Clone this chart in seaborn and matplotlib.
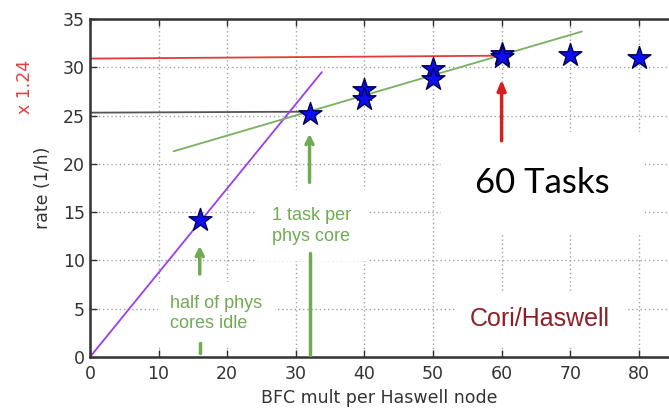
import numpy as np
import pandas as pd
import matplotlib
matplotlib.use("Agg")
import matplotlib.pyplot as plt
import seaborn as sns

# measured points (stars)
bfc_mult = [16, 32, 40, 40, 50, 50, 60, 60, 70, 80]
rate = [14.2, 25.2, 27.6, 26.7, 29.8, 28.8, 31.4, 31.1, 31.3, 31.0]

# guide lines (end points)
linear_x = [0, 33.8]
linear_y = [0, 29.5]
fit_x = [12.2, 71.7]
fit_y = [21.3, 33.7]
level60_x = [0, 60]
level60_y = [30.9, 31.2]
level32_x = [0, 32]
level32_y = [25.3, 25.4]

xticks = [0, 10, 20, 30, 40, 50, 60, 70, 80]
yticks = [0, 5, 10, 15, 20, 25, 30, 35]

df = pd.DataFrame({"bfc": bfc_mult, "rate": rate})

sns.set_style("ticks")
plt.rcParams["font.family"] = ["DejaVu Sans"]

fig = plt.figure(figsize=(6.69, 4.08), dpi=100)
ax = fig.add_axes([0.1345, 0.125, 0.8655, 0.8285])

GREEN = "#6fab52"
ax.set_axisbelow(True)
ax.grid(True, linestyle=(0, (1, 2)), color="#a0a0a0", linewidth=1.0)

sns.lineplot(x=level60_x, y=level60_y, color="#e03c3c", linewidth=1.3, ax=ax, zorder=2)
sns.lineplot(x=level32_x, y=level32_y, color="#555555", linewidth=1.3, ax=ax, zorder=2)
sns.lineplot(x=linear_x, y=linear_y, color="#9b3cf0", linewidth=1.3, ax=ax, zorder=2)
sns.lineplot(x=fit_x, y=fit_y, color="#78b060", linewidth=1.3, ax=ax, zorder=2)

sns.scatterplot(data=df, x="bfc", y="rate", marker="*", s=300, color="#0d0df2",
                edgecolor="#000050", linewidth=1.0, ax=ax, zorder=4)

# annotations with white boxes
ax.text(66, 18.0, "60 Tasks", fontsize=25, family=["Lato", "DejaVu Sans"], color="black",
        ha="center", va="center", zorder=1,
        bbox=dict(boxstyle="square,pad=1.0", fc="white", ec="none"))
ax.text(26.6, 13.6, "1 task per\nphys core", fontsize=13, family=["Liberation Sans"], color=GREEN,
        ha="left", va="center", linespacing=1.3, zorder=1,
        bbox=dict(boxstyle="square,pad=0.9", fc="white", ec="none"))
ax.text(11.7, 4.5, "half of phys\ncores idle", fontsize=13, family=["Liberation Sans"], color=GREEN,
        ha="left", va="center", linespacing=1.3, zorder=1,
        bbox=dict(boxstyle="square,pad=0.7", fc="white", ec="none"))
ax.text(55.4, 3.9, "Cori/Haswell", fontsize=18, family=["Liberation Sans"], color="#8e1f25",
        ha="left", va="center", zorder=1,
        bbox=dict(boxstyle="square,pad=0.6", fc="white", ec="none"))

# arrows
ax.annotate("", xy=(16, 11.8), xytext=(16, 8.3),
            arrowprops=dict(arrowstyle="->,head_length=0.5,head_width=0.25", color=GREEN, lw=2.5), zorder=3)
ax.plot([16, 16], [0.4, 1.4], color=GREEN, lw=2.5, zorder=3)
ax.annotate("", xy=(32, 23.4), xytext=(32, 17.8),
            arrowprops=dict(arrowstyle="->,head_length=0.5,head_width=0.25", color=GREEN, lw=2.5), zorder=3)
ax.plot([32, 32], [0, 10.8], color=GREEN, lw=2.5, zorder=3)
ax.annotate("", xy=(60, 29.0), xytext=(60, 22.1),
            arrowprops=dict(arrowstyle="-|>,head_length=0.6,head_width=0.25", color="#d42020", lw=2.5), zorder=3)

ax.text(-0.112, 28.0, "x 1.24", transform=ax.get_yaxis_transform(), rotation=90,
        fontsize=12.5, color="#e04040", ha="center", va="center")

ax.set_xlim(0, 84.4)
ax.set_ylim(0, 35)
ax.set_xticks(xticks)
ax.set_yticks(yticks)
ax.tick_params(direction="in", top=True, labelsize=12.5, colors="#333333", length=5, width=1)
ax.tick_params(axis="x", pad=6)
for side in ["left", "bottom", "top"]:
    ax.spines[side].set_color("#333333")
    ax.spines[side].set_linewidth(1.8)
ax.spines["right"].set_visible(False)

ax.set_xlabel("BFC mult per Haswell node", fontsize=12.5, color="#333333", labelpad=4)
ax.set_ylabel("rate (1/h)", fontsize=12.5, color="#333333", labelpad=8)

fig.savefig("out.png", dpi=100)
